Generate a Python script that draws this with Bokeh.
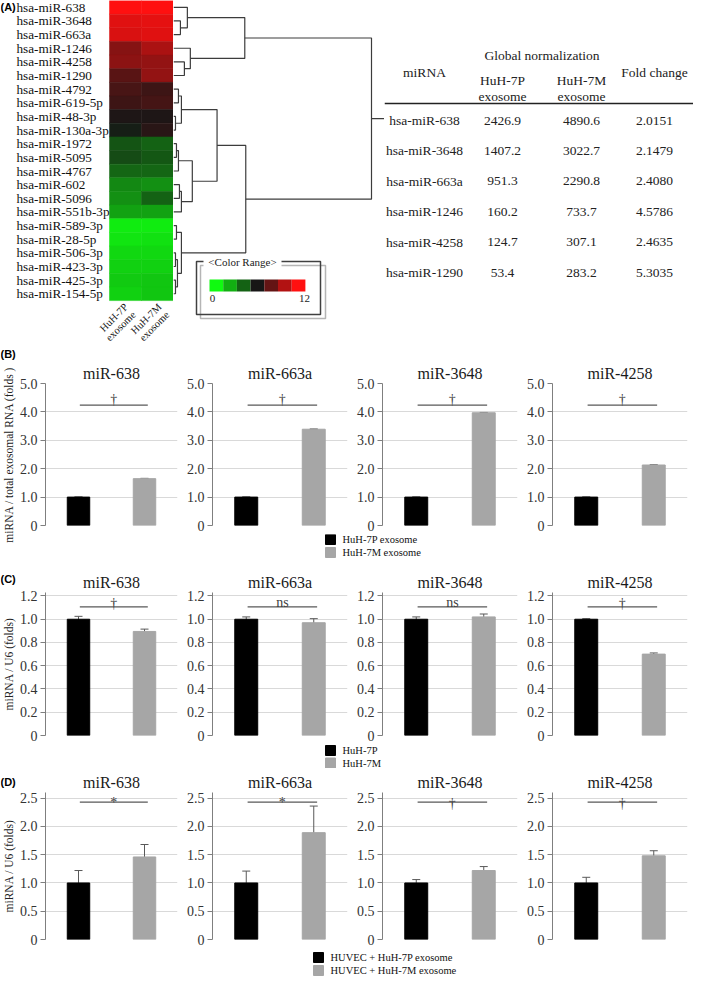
import numpy as np
from bokeh.plotting import figure
from bokeh.models import (Range1d, FixedTicker, ColumnDataSource, LinearColorMapper,
                          Whisker, TeeHead, NumeralTickFormatter)
from bokeh.layouts import column, row
from bokeh.transform import transform
from bokeh.core.properties import value
from bokeh.embed import file_html
from bokeh.resources import INLINE

SERIF = "Liberation Serif"
SANS = "Liberation Sans"

# ---------------- data: panel A ----------------
heat_mirnas = ["hsa-miR-638", "hsa-miR-3648", "hsa-miR-663a", "hsa-miR-1246", "hsa-miR-4258",
               "hsa-miR-1290", "hsa-miR-4792", "hsa-miR-619-5p", "hsa-miR-48-3p", "hsa-miR-130a-3p",
               "hsa-miR-1972", "hsa-miR-5095", "hsa-miR-4767", "hsa-miR-602", "hsa-miR-5096",
               "hsa-miR-551b-3p", "hsa-miR-589-3p", "hsa-miR-28-5p", "hsa-miR-506-3p",
               "hsa-miR-423-3p", "hsa-miR-425-3p", "hsa-miR-154-5p"]
heat_samples = ["HuH-7P\nexosome", "HuH-7M\nexosome"]
heat_huh7p = [12.0, 11.2, 11.0, 8.9, 9.0, 7.7, 7.3, 7.0, 6.2, 5.8, 4.4, 4.6, 3.9, 3.0, 2.8,
              2.3, 0.4, 0.6, 0.9, 1.1, 1.3, 1.1]
heat_huh7m = [12.0, 11.3, 11.2, 9.8, 9.2, 9.2, 7.0, 7.2, 6.2, 6.5, 4.0, 4.3, 3.9, 2.8, 4.0,
              2.3, 0.4, 0.7, 0.9, 1.1, 1.4, 1.4]
color_range_levels = [0, 2, 4, 6, 8, 10, 12]
color_range_ticks = ["0", "12"]

# hierarchical clustering: (child a, child b, merge height); leaves 0..21, new nodes 22..
dendro_merges = [
    (1, 2, 0.35), (0, 22, 0.7), (4, 5, 0.55), (3, 24, 0.85), (23, 25, 3.6),
    (6, 7, 0.25), (8, 9, 0.1), (27, 28, 0.4), (10, 11, 0.15), (30, 12, 0.25),
    (13, 14, 0.3), (32, 15, 0.4), (31, 33, 0.95), (29, 34, 2.2),
    (16, 17, 0.15), (18, 19, 0.1), (20, 21, 0.1), (37, 38, 0.2), (36, 39, 0.4),
    (35, 40, 3.65), (26, 41, 10.0),
]

table_mirna = ["hsa-miR-638", "hsa-miR-3648", "hsa-miR-663a", "hsa-miR-1246", "hsa-miR-4258", "hsa-miR-1290"]
table_huh7p = [2426.9, 1407.2, 951.3, 160.2, 124.7, 53.4]
table_huh7m = [4890.6, 3022.7, 2290.8, 733.7, 307.1, 283.2]
table_fold = [2.0151, 2.1479, 2.4080, 4.5786, 2.4635, 5.3035]

# ---------------- data: panels B, C, D ----------------
bar_mirnas = ["miR-638", "miR-663a", "miR-3648", "miR-4258"]

b_series = ["HuH-7P exosome", "HuH-7M exosome"]
b_ctrl = [1.0, 1.0, 1.0, 1.0]
b_ctrl_err = [0.005, 0.005, 0.005, 0.005]
b_test = [1.65, 3.39, 3.97, 2.13]
b_test_err = [0.01, 0.01, 0.01, 0.01]
b_sig = ["†", "†", "†", "†"]
b_ticks = [0, 1.0, 2.0, 3.0, 4.0, 5.0]

c_series = ["HuH-7P", "HuH-7M"]
c_ctrl = [1.0, 1.0, 1.0, 1.0]
c_ctrl_err = [0.025, 0.02, 0.02, 0.005]
c_test = [0.895, 0.97, 1.02, 0.70]
c_test_err = [0.02, 0.035, 0.025, 0.01]
c_sig = ["†", "ns", "ns", "†"]
c_ticks = [0, 0.2, 0.4, 0.6, 0.8, 1.0, 1.2]

d_series = ["HUVEC + HuH-7P exosome", "HUVEC + HuH-7M exosome"]
d_ctrl = [1.0, 1.0, 1.0, 1.0]
d_ctrl_err = [0.22, 0.21, 0.06, 0.10]
d_test = [1.46, 1.89, 1.22, 1.48]
d_test_err = [0.22, 0.47, 0.07, 0.09]
d_sig = ["*", "*", "†", "†"]
d_ticks = [0, 0.5, 1.0, 1.5, 2.0, 2.5]

BAR_COLORS = ["#000000", "#A6A6A6"]

# ---------------- colour map ----------------
def ramp(t):
    v = t * 12.0
    if v < 6:
        f = (6 - v) / 6
        r = b = 22 - 6 * f
        g = 22 + (250 - 22) * f
    else:
        f = (v - 6) / 6
        r = 22 + (255 - 22) * f
        g = b = 22 - 6 * f
    return "#%02x%02x%02x" % (int(round(r)), int(round(g)), int(round(b)))

palette = [ramp(i / 255) for i in range(256)]
mapper = LinearColorMapper(palette=palette, low=0, high=12)

def bare_fig(w, h, xr, yr):
    p = figure(width=w, height=h, x_range=xr, y_range=yr, toolbar_location=None,
               output_backend="svg", x_axis_type=None, y_axis_type=None,
               min_border_left=0, min_border_right=0, min_border_top=0, min_border_bottom=0,
               outline_line_color=None)
    p.grid.visible = False
    return p

A_H = 343
ROW_PX = 13.64
ROWS_MAX = A_H / ROW_PX
N = len(heat_mirnas)

# ---------------- heatmap (labels + cells) ----------------
HEAT_W = 173
CELL_PX = 32
X0 = 2 - HEAT_W / CELL_PX
heat = bare_fig(HEAT_W, A_H, Range1d(X0, 2), Range1d(ROWS_MAX, 0))

def hpx(px):
    return X0 + px / CELL_PX

hx, hy, hv = [], [], []
for j, vals in enumerate([heat_huh7p, heat_huh7m]):
    for i, v in enumerate(vals):
        hx.append(j + 0.5); hy.append(i + 0.5); hv.append(v)
hsrc = ColumnDataSource(dict(x=hx, y=hy, v=hv))
heat.rect(x="x", y="y", width=1, height=1, source=hsrc,
          fill_color=transform("v", mapper), line_color=transform("v", mapper), line_width=0.5)
heat.text(x=[hpx(16)] * N, y=[i + 0.5 for i in range(N)], text=heat_mirnas,
          text_align="left", text_baseline="middle", text_font=value(SERIF),
          text_font_size=value("13.2px"), text_color="#111111")
heat.text(x=[0.4, 1.45], y=[N + 0.05] * 2, text=heat_samples, angle=np.pi / 4,
          text_align="right", text_baseline="top", text_line_height=1.0,
          text_font=value(SERIF), text_font_size=value("10.5px"), text_color="#111111")
heat.text(x=[hpx(0)], y=[0.5], text=["(A)"], text_align="left", text_baseline="middle",
          text_font=value(SANS), text_font_style="bold", text_font_size=value("11px"),
          text_color="#000000")

# ---------------- dendrogram + colour range ----------------
DEND_W = 211
DX_MAX = DEND_W / 19.8
dend = bare_fig(DEND_W, A_H, Range1d(0, DX_MAX), Range1d(ROWS_MAX, 0))
node = {i: (0.0, i + 0.5) for i in range(N)}
dxs, dys = [], []
for k, (a, b, h) in enumerate(dendro_merges):
    ha, ya = node[a]; hb, yb = node[b]
    dxs.append([ha, h, h, hb]); dys.append([ya, ya, yb, yb])
    node[N + k] = (h, (ya + yb) / 2)
rh, ry = node[N + len(dendro_merges) - 1]
dxs.append([rh, DX_MAX]); dys.append([ry, ry])
dend.multi_line(xs=dxs, ys=dys, line_color="#3c3c3c", line_width=1.2)

def ux(px):
    return px * DX_MAX / DEND_W

def uy(px):
    return px / ROW_PX

dend.quad(left=ux(27), right=ux(152), top=uy(265), bottom=uy(318), fill_color=None,
          line_color="#b5b5b5", line_width=1.5)
dend.quad(left=ux(23), right=ux(147), top=uy(261), bottom=uy(314), fill_color=None,
          line_color="#404040", line_width=1.5)
dend.quad(left=ux(30), right=ux(108), top=uy(254), bottom=uy(268), fill_color="white", line_color=None)
dend.text(x=[ux(69)], y=[uy(261)], text=["<Color Range>"], text_align="center", text_baseline="middle",
          text_font=value(SERIF), text_font_size=value("11px"), text_color="#222222")
sw = 13.7
cr_src = ColumnDataSource(dict(x=[ux(36 + sw * (k + 0.5)) for k in range(len(color_range_levels))],
                               y=[uy(285)] * len(color_range_levels), v=color_range_levels))
dend.rect(x="x", y="y", width=ux(sw), height=uy(12), source=cr_src,
          fill_color=transform("v", mapper), line_color=None)
dend.text(x=[ux(39), ux(131)], y=[uy(294)] * 2, text=color_range_ticks, text_align="center",
          text_baseline="top", text_font=value(SERIF), text_font_size=value("11px"), text_color="#222222")

# ---------------- table ----------------
TAB_W = 693 - HEAT_W - DEND_W
tab = bare_fig(TAB_W, A_H, Range1d(0, TAB_W), Range1d(A_H, 0))
tc = [40, 118, 197, 270]
tstyle = dict(text_align="center", text_baseline="middle", text_font=value(SERIF),
              text_font_size=value("13.5px"), text_color="#222222")
tab.text(x=[(tc[1] + tc[2]) / 2], y=[55], text=["Global normalization"], **tstyle)
tab.text(x=[tc[0], tc[3]], y=[72, 72], text=["miRNA", "Fold change"], **tstyle)
tab.text(x=[tc[1], tc[2]], y=[80, 80], text=["HuH-7P", "HuH-7M"], **tstyle)
tab.text(x=[tc[1], tc[2]], y=[96, 96], text=["exosome", "exosome"], **tstyle)
tab.segment(x0=[0], y0=[103], x1=[TAB_W], y1=[103], line_color="#222222", line_width=1.5)
ry_tab = [120 + 30.4 * i for i in range(len(table_mirna))]
tab.text(x=[tc[0]] * len(ry_tab), y=ry_tab, text=table_mirna, **tstyle)
tab.text(x=[tc[1]] * len(ry_tab), y=ry_tab, text=["%.1f" % v for v in table_huh7p], **tstyle)
tab.text(x=[tc[2]] * len(ry_tab), y=ry_tab, text=["%.1f" % v for v in table_huh7m], **tstyle)
tab.text(x=[tc[3]] * len(ry_tab), y=ry_tab, text=["%.4f" % v for v in table_fold], **tstyle)

panel_a = row(heat, dend, tab)

# ---------------- bar charts ----------------
LAB_W = 16
WIDTHS = [167, 170, 170, 170]
BAR_X = [0.5, 1.5]
BOTTOM = 9

def bar_chart(k, title, ticks, ymax, ctrl, ctrl_err, test, test_err, sig, sig_y, sig_off,
              height, top):
    p = figure(width=WIDTHS[k], height=height, x_range=Range1d(0, 2),
               y_range=Range1d(0, ymax), toolbar_location=None, output_backend="svg",
               x_axis_type=None, min_border_left=27, min_border_right=6,
               min_border_top=top, min_border_bottom=BOTTOM, outline_line_color=None, title=title)
    p.title.align = "center"
    p.title.text_font = SERIF
    p.title.text_font_size = "16px"
    p.title.text_font_style = "normal"
    p.title.text_color = "#1a1a1a"
    p.title.standoff = 3
    p.xgrid.visible = False
    p.ygrid.grid_line_color = "#d9d9d9"
    p.yaxis.ticker = FixedTicker(ticks=ticks)
    p.yaxis.formatter = NumeralTickFormatter(format="0.0")
    p.yaxis.major_label_overrides = {0: "0"}
    p.yaxis.major_label_text_font = SERIF
    p.yaxis.major_label_text_font_size = "14px"
    p.yaxis.major_label_text_color = "#333333"
    p.yaxis.major_label_standoff = 3
    p.yaxis.axis_line_color = "#7f7f7f"
    p.yaxis.major_tick_line_color = "#7f7f7f"
    p.yaxis.major_tick_in = 0
    p.yaxis.major_tick_out = 5
    p.yaxis.minor_tick_line_color = None
    src = ColumnDataSource(dict(x=BAR_X, top=[ctrl, test], color=BAR_COLORS,
                                upper=[ctrl + ctrl_err, test + test_err],
                                lower=[ctrl - ctrl_err, test - test_err]))
    p.vbar(x="x", top="top", width=0.34, source=src, fill_color="color", line_color="color")
    p.add_layout(Whisker(base="x", upper="upper", lower="lower", source=src,
                         line_color="#595959", line_width=1,
                         upper_head=TeeHead(size=8, line_color="#595959", line_width=1),
                         lower_head=TeeHead(size=8, line_color="#595959", line_width=1)))
    x0, x1 = BAR_X[0] + 0.02, BAR_X[1] + 0.05
    p.segment(x0=[x0], y0=[sig_y], x1=[x1], y1=[sig_y], line_color="#595959", line_width=1.2)
    p.text(x=[(x0 + x1) / 2], y=[sig_y], text=[sig], text_align="center",
           text_baseline="alphabetic", y_offset=sig_off[sig], text_font=value(SERIF),
           text_font_size=value("14px"), text_color="#404040")
    return p

def letter_fig(letter, ylabel, height, letter_y, label_y):
    p = bare_fig(LAB_W, height, Range1d(0, LAB_W), Range1d(height, 0))
    p.text(x=[0], y=[letter_y], text=[letter], text_align="left", text_baseline="middle",
           text_font=value(SANS), text_font_style="bold", text_font_size=value("11px"),
           text_color="#000000")
    p.text(x=[8], y=[label_y], text=[ylabel], angle=np.pi / 2, text_align="center",
           text_baseline="middle", text_font=value(SERIF), text_font_size=value("11.5px"),
           text_color="#222222")
    return p

def legend_fig(labels, x0, height, ys):
    w = 693 - LAB_W
    p = bare_fig(w, height, Range1d(0, w), Range1d(height, 0))
    p.rect(x=[x0 + 5] * 2, y=ys, width=10, height=10, fill_color=BAR_COLORS, line_color=BAR_COLORS)
    p.text(x=[x0 + 17] * 2, y=ys, text=labels, text_align="left", text_baseline="middle",
           text_font=value(SERIF), text_font_size=value("10.5px"), text_color="#111111")
    return p

def panel(letter, ylabel, ticks, ymax, ctrl, ctrl_err, test, test_err, sig, sig_y, sig_off,
          top, frame_h, series, leg_x, leg_h, leg_ys, letter_y):
    height = top + frame_h + BOTTOM
    charts = row(*[bar_chart(k, bar_mirnas[k], ticks, ymax, ctrl[k], ctrl_err[k], test[k],
                             test_err[k], sig[k], sig_y, sig_off, height, top) for k in range(4)])
    lab = letter_fig(letter, ylabel, height + leg_h, letter_y, top + frame_h / 2)
    return row(lab, column(charts, legend_fig(series, leg_x, leg_h, leg_ys)))

panel_b = panel("(B)", "miRNA / total exosomal RNA (folds )", b_ticks, 5.0, b_ctrl, b_ctrl_err,
                b_test, b_test_err, b_sig, 4.24, {"†": -6}, 40, 142, b_series, 309, 24,
                [5, 18], 10)
panel_c = panel("(C)", "miRNA / U6 (folds)", c_ticks, 1.23, c_ctrl, c_ctrl_err,
                c_test, c_test_err, c_sig, 1.106, {"†": -3, "ns": -4}, 34, 143, c_series, 309, 24,
                [6, 18.5], 20)
panel_d = panel("(D)", "miRNA / U6 (folds)", d_ticks, 2.6, d_ctrl, d_ctrl_err,
                d_test, d_test_err, d_sig, 2.43, {"*": 0, "†": 1}, 24, 147, d_series, 297, 28,
                [9, 22], 13)

layout = column(panel_a, panel_b, panel_c, panel_d)

with open("out.html", "w") as f:
    f.write(file_html(layout, INLINE))
